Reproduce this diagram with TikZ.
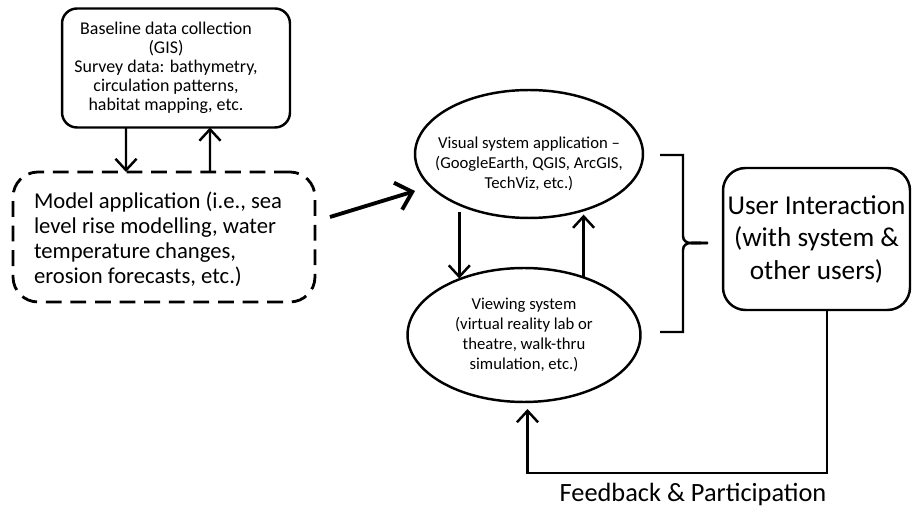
\documentclass[tikz,border=0pt]{standalone}
\usepackage{fontspec}
\setmainfont{Carlito}
\usetikzlibrary{arrows.meta,shapes.geometric}

\begin{document}
\begin{tikzpicture}[x=0.02cm, y=-0.02cm,
    every node/.style={align=center, outer sep=0, inner sep=0},
    thick line/.style={line width=1.4pt},
    arrowline/.style={thick line, -{Straight Barb[length=6.5pt,width=12pt]}},
    bigarrow/.style={line width=2.2pt, -{Straight Barb[length=8.5pt,width=16pt]}},
    ellipsebox/.style={ellipse, draw, thick line},
    ellipsetext/.style={font=\fontsize{9.5}{11.4}\selectfont}]
  \useasboundingbox (0,0) rectangle (912,509);
  % left column
  \draw (176,68) node[draw, thick line, rounded corners=0.3cm, minimum width=4.56cm, minimum height=2.38cm] (base) {};
  \node[font=\fontsize{10.2}{10.9}\selectfont] (basetext) at ([xshift=-0.2cm]base.center) {Baseline data collection\\(GIS)\\Survey data: bathymetry,\\circulation patterns,\\habitat mapping, etc.};
  \draw (164,237) node[draw, line width=1.6pt, dash pattern=on 9pt off 5pt, rounded corners=0.5cm, minimum width=6.04cm, minimum height=2.6cm] (model) {};
  \node[anchor=west, align=left, font=\fontsize{12.9}{14.2}\selectfont] (modeltext) at ([xshift=0.42cm, yshift=-0.04cm]model.west) {Model application (i.e., sea\\level rise modelling, water\\temperature changes,\\erosion forecasts, etc.)};
  \draw[arrowline] ([xshift=-1.0cm]base.south) -- ([xshift=-0.76cm]model.north);
  \draw[arrowline] ([xshift=0.92cm]model.north) -- ([xshift=0.68cm]base.south);
  % middle column
  \draw (529,154) node[ellipsebox, minimum width=4.56cm, minimum height=2.56cm] (vis) {};
  \node[ellipsetext] (vistext) at ([yshift=-0.2cm]vis.center) {Visual system application --\\(GoogleEarth, QGIS, ArcGIS,\\TechViz, etc.)};
  \draw (524,335) node[ellipsebox, minimum width=4.66cm, minimum height=2.68cm, ellipsetext] (view) {Viewing system\\(virtual reality lab or\\theatre, walk-thru\\simulation, etc.)};
  \draw[bigarrow] ([shift={(15,-20)}]model.east) -- ([shift={(0,37)}]vis.west);
  \draw[arrowline, shorten <=4pt] (vis.-144) -- (vis.-144 |- view.138);
  \draw[arrowline, shorten >=3pt] (view.44) -- (view.44 |- vis.-44);
  % brace
  \draw[thick line] (660,155) -| (683,236) to[out=-90,in=180] (708,243);
  \draw[thick line] (660,332) -| (683,250) to[out=90,in=180] (708,243);
  % right column
  \draw (816.5,239) node[draw, thick line, rounded corners=0.45cm, minimum width=3.74cm, minimum height=2.84cm, font=\fontsize{15.5}{18.5}\selectfont] (user) {User Interaction\\(with system \&\\other users)};
  \draw[arrowline, shorten >=4pt] ([xshift=0.21cm]user.south) -- ++(0,163) -| ([xshift=0.07cm]view.south);
  \node[font=\fontsize{15}{18}\selectfont] (fb) at (693,494) {Feedback \& Participation};
\end{tikzpicture}
\end{document}
